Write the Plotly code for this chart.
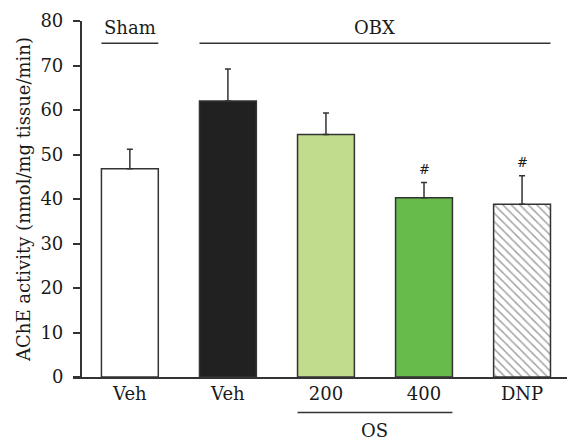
import plotly.graph_objects as go

groups = ["Veh", "Veh", "200", "400", "DNP"]
means = [46.8, 62.0, 54.5, 40.3, 38.8]
errors = [4.4, 7.2, 4.8, 3.4, 6.4]
marks = ["", "", "", "#", "#"]
colors = ["#ffffff", "#212121", "#c2dc8d", "#66bb4b", "#ffffff"]
patterns = ["", "", "", "", "\\"]
ytick_vals = [0, 10, 20, 30, 40, 50, 60, 70, 80]

FONT = "DejaVu Serif"
LINE = "#333333"
TXT = "#1a1a1a"
FS = 18
W = 0.58
x = list(range(len(groups)))

fig = go.Figure()
fig.add_trace(go.Bar(
    x=x, y=means, width=W,
    marker=dict(color=colors, line=dict(color=LINE, width=1.5),
                pattern=dict(shape=patterns, fgcolor="#000000", bgcolor="#ffffff",
                             size=6, solidity=0.25)),
    error_y=dict(type="data", array=errors, arrayminus=[0] * len(errors), symmetric=False,
                 color=LINE, thickness=1.5, width=3),
    showlegend=False,
))

for xi, m, e, t in zip(x, means, errors, marks):
    if t:
        fig.add_annotation(x=xi, y=m + e, text=t, showarrow=False, yanchor="bottom", yshift=4,
                           font=dict(family=FONT, size=13, color=TXT))

# group lines and labels
fig.add_shape(type="line", x0=0 - W / 2, x1=0 + W / 2, y0=75, y1=75, line=dict(color=LINE, width=1.5))
fig.add_shape(type="line", x0=1 - W / 2, x1=4 + W / 2, y0=75, y1=75, line=dict(color=LINE, width=1.5))
fig.add_annotation(x=0, y=78.6, text="Sham", showarrow=False, yanchor="middle", xanchor="center",
                   font=dict(family=FONT, size=FS, color=TXT))
fig.add_annotation(x=2.5, y=78.6, text="OBX", showarrow=False, yanchor="middle", xanchor="center",
                   font=dict(family=FONT, size=FS, color=TXT))
fig.add_shape(type="line", xref="x", yref="paper", x0=2 - W / 2, x1=3 + W / 2, y0=-0.0995, y1=-0.0995,
              line=dict(color=LINE, width=1.5))
fig.add_annotation(x=2.5, xref="x", yref="paper", y=-0.151, text="OS", showarrow=False,
                   yanchor="middle", xanchor="center", font=dict(family=FONT, size=FS, color=TXT))

# the page body has an 8px margin, so the figure is shrunk by 8px and offsets reduced
fig.update_layout(
    width=567, height=432,
    margin=dict(l=65, r=0, t=13, b=63),
    paper_bgcolor="white", plot_bgcolor="white",
    font=dict(family=FONT, size=FS, color=TXT),
    xaxis=dict(range=[-0.58, 4.54], tickvals=x, ticktext=groups, showline=True,
               linecolor=LINE, linewidth=1.5, ticks="", showgrid=False, zeroline=False,
               tickfont=dict(family=FONT, size=FS, color=TXT)),
    yaxis=dict(range=[0, 80], tickvals=ytick_vals, anchor="free", position=0.0153,
               showline=True, linecolor=LINE, linewidth=1.5, ticks="outside", ticklen=7,
               tickwidth=1.5, tickcolor=LINE, showgrid=False, zeroline=False,
               ticklabelstandoff=6,
               tickfont=dict(family=FONT, size=FS, color=TXT),
               title=dict(text="AChE activity (nmol/mg tissue/min)", standoff=4,
                          font=dict(family=FONT, size=FS, color=TXT))),
)

fig.write_html("out.html")
